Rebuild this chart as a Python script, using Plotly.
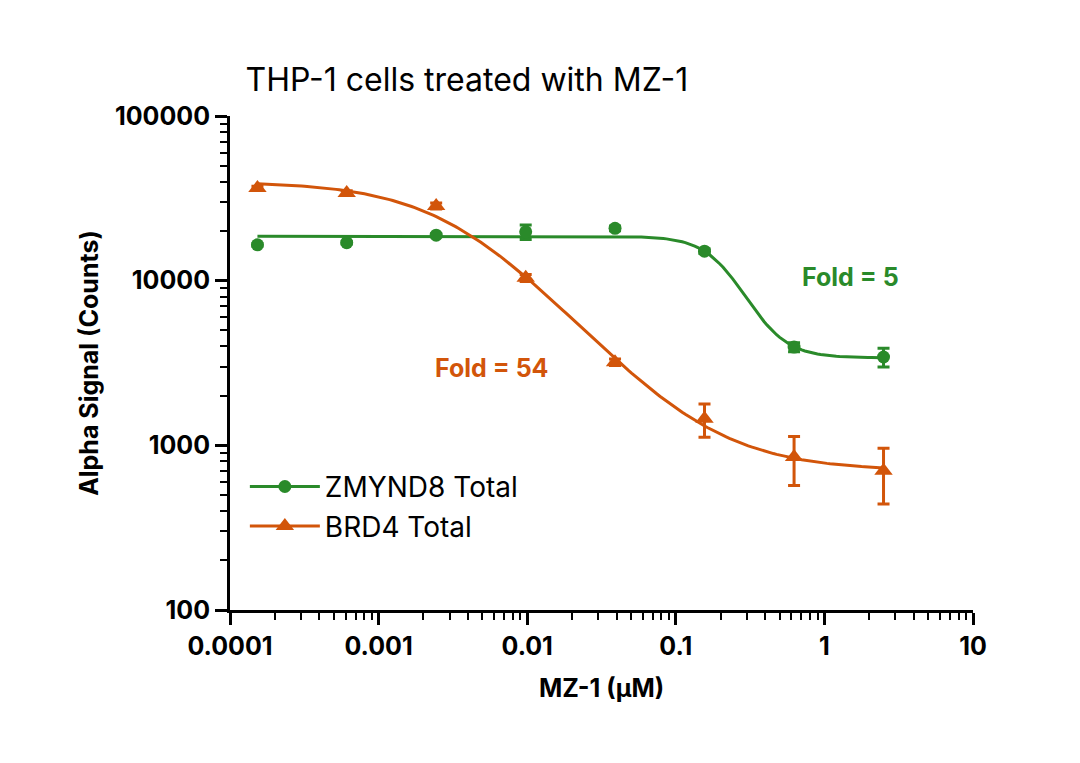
import numpy as np
import plotly.graph_objects as go

conc = [1.53e-4, 6.1e-4, 2.44e-3, 9.77e-3, 0.039, 0.156, 0.625, 2.5]
zmynd8 = [16500, 17000, 18900, 19800, 20800, 15100, 3950, 3440]
zmynd8_err = [300, 300, 400, 2000, 700, 500, 250, 450]
brd4 = [36500, 34100, 28400, 10400, 3200, 1450, 850, 700]
brd4_err = [1000, 1000, 1200, 500, 150, 330, 280, 260]

# 4PL fit params: top, bottom, ic50, hill
zmynd8_fit = (18600, 3400, 0.227, 3.2)
brd4_fit = (40000, 700, 0.0036, 1.1)

green = "#2a8a2a"
orange = "#d2550a"

def fourpl(x, p):
    top, bottom, ic50, hill = p
    return bottom + (top - bottom) / (1 + (x / ic50) ** hill)

xs = np.logspace(np.log10(conc[0]), np.log10(conc[-1]), 200)

fig = go.Figure()
for name, y, err, fit, col, sym, sz in [
    ("ZMYND8 Total", zmynd8, zmynd8_err, zmynd8_fit, green, "circle", 13),
    ("BRD4 Total", brd4, brd4_err, brd4_fit, orange, "triangle-up", 16),
]:
    fig.add_trace(go.Scatter(x=xs, y=fourpl(xs, fit), mode="lines",
                             line=dict(color=col, width=3), showlegend=False))
    fig.add_trace(go.Scatter(x=conc, y=y, mode="markers", name=name,
                             marker=dict(color=col, symbol=sym, size=sz),
                             error_y=dict(type="data", array=err, color=col,
                                          thickness=3, width=6),
                             showlegend=False))
    fig.add_trace(go.Scatter(x=[None], y=[None], mode="lines+markers", name=name,
                             line=dict(color=col, width=3),
                             marker=dict(color=col, symbol=sym, size=sz)))

def minor_vals(lo, hi):
    return [m * 10.0 ** e for e in range(lo, hi) for m in range(2, 10)]

tickfont = dict(family="Inter, Open Sans, sans-serif", size=25, color="black", weight="bold")
axis_common = dict(type="log", showgrid=False, zeroline=False, showline=True,
                   linecolor="black", linewidth=3, ticks="outside", ticklen=12,
                   tickwidth=3, tickcolor="black", tickfont=tickfont, automargin=False)

fig.update_xaxes(range=[-4, 1], tickvals=[1e-4, 1e-3, 1e-2, 0.1, 1, 10],
                 ticktext=["0.0001", "0.001", "0.01", "0.1", "1", "10"],
                 minor=dict(ticks="outside", ticklen=7, tickwidth=2, tickcolor="black",
                            tickvals=minor_vals(-4, 1)),
                 title=dict(text="MZ-1 (µM)", font=tickfont, standoff=20), **axis_common)
fig.update_yaxes(range=[2, 5], tickvals=[100, 1000, 10000, 100000],
                 ticktext=["100", "1000", "10000", "100000"],
                 minor=dict(ticks="outside", ticklen=7, tickwidth=2, tickcolor="black",
                            tickvals=minor_vals(2, 5)),
                 title=dict(text="Alpha Signal (Counts)", font=tickfont, standoff=10),
                 **axis_common)

fig.add_annotation(x=np.log10(1.5), y=np.log10(10500), text="<b>Fold = 5</b>",
                   showarrow=False, font=dict(family="Inter, sans-serif", size=25, color=green))
fig.add_annotation(x=np.log10(0.0058), y=np.log10(2950), text="<b>Fold = 54</b>",
                   showarrow=False, font=dict(family="Inter, sans-serif", size=25, color=orange))

fig.update_layout(
    width=1080, height=763, paper_bgcolor="white", plot_bgcolor="white",
    margin=dict(l=222, r=115, t=108, b=161),
    title=dict(text="THP-1 cells treated with MZ-1", x=0.22, xanchor="left", y=0.92,
               font=dict(family="Inter, sans-serif", size=32, color="black")),
    legend=dict(x=0.02, y=0.3, xanchor="left", yanchor="top",
                font=dict(family="Inter, sans-serif", size=28, color="black"),
                itemwidth=70, tracegroupgap=25, bgcolor="rgba(0,0,0,0)"),
)

fig.write_html("out.html")
